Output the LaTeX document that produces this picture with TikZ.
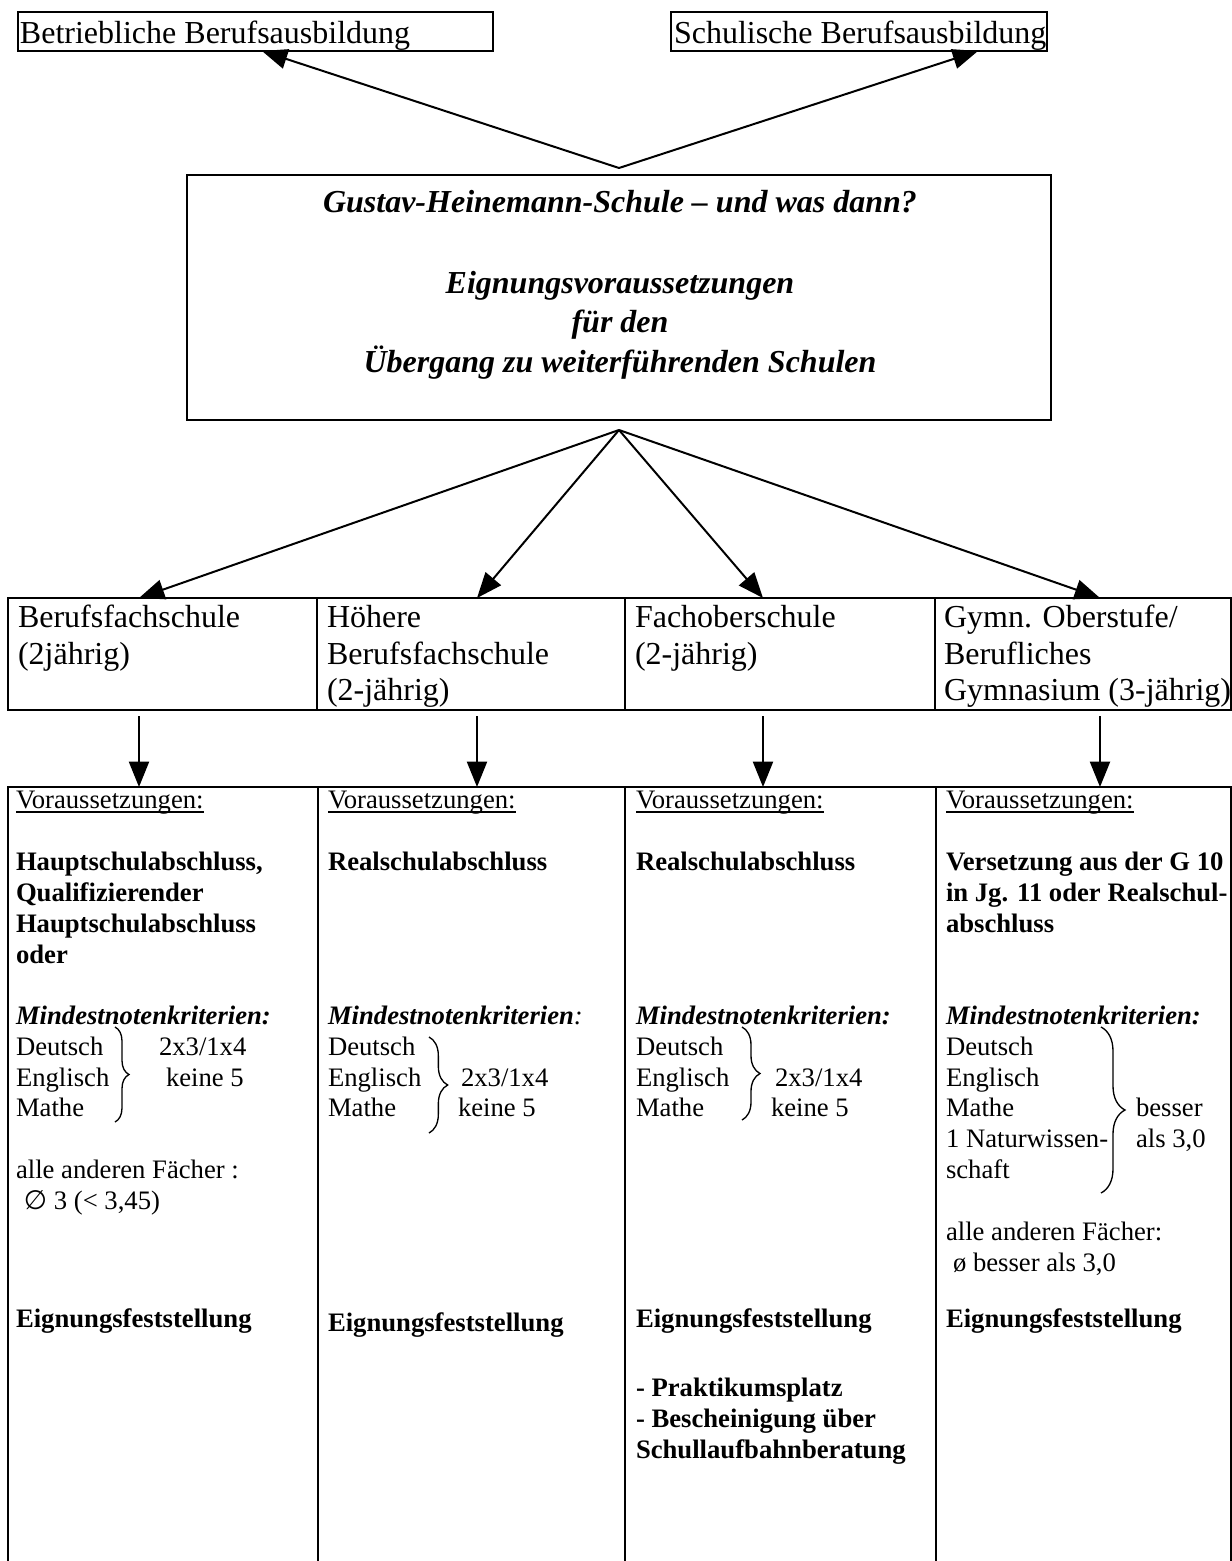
\documentclass[tikz,border=0pt]{standalone}
\usepackage{fontspec}
\setmainfont{Liberation Serif}
\newfontfamily\symfont{DejaVu Sans}
\usetikzlibrary{arrows.meta,calc,decorations.pathreplacing}
\newcommand\fL{\fontsize{12}{14}\selectfont}
\newcommand\fS{\fontsize{10}{11.5}\selectfont}
\newcommand\myul[1]{\setbox0\hbox{#1}\rlap{\vrule height -1.2pt depth 1.7pt width \wd0}\box0}
\begin{document}
\begin{tikzpicture}[x=0.375pt,y=-0.375pt,
  every node/.style={inner sep=0pt, outer sep=0pt},
  cellbox/.style={draw, line width=0.85pt, anchor=north west},
  lbl/.style={anchor=base west, font=\fS},
  lblb/.style={anchor=base west, font=\fS\bfseries},
  lblL/.style={anchor=base west, font=\fL},
  ttl/.style={anchor=base, font=\fL\bfseries\itshape},
  conn/.style={line width=0.75pt, -{Triangle[length=9.5pt,width=7.5pt]}},
  brc/.style={decorate, decoration={brace, amplitude=#1}, line width=0.5pt}]
\useasboundingbox (0,0) rectangle (1232,1561);

% top boxes
\node[cellbox, line width=0.9pt, minimum width=178.125pt, minimum height=14.625pt] (bA) at (18,12) {};
\node[lblL] (tA) at (20,43) {Betriebliche Berufsausbildung};
\node[cellbox, line width=0.9pt, minimum width=141pt, minimum height=14.625pt] (bB) at (671,12) {};
\node[lblL] (tB) at (674,43) {Schulische Berufsausbildung};

% title box
\node[cellbox, minimum width=324pt, minimum height=91.875pt] (T) at (187,175) {};
\node[ttl] (T1) at (620,212) {Gustav-Heinemann-Schule – und was dann?};
\node[ttl] (T2) at (620,293) {Eignungsvoraussetzungen};
\node[ttl] (T3) at (620,332) {für den};
\node[ttl] (T4) at (620,372) {Übergang zu weiterführenden Schulen};

% school row
\node[cellbox, minimum width=115.875pt, minimum height=42pt] (r1) at (8,598) {};
\node[cellbox, minimum width=115.5pt, minimum height=42pt] (r2) at (317,598) {};
\node[cellbox, minimum width=116.25pt, minimum height=42pt] (r3) at (625,598) {};
\node[cellbox, minimum width=111pt, minimum height=42pt] (r4) at (935,598) {};
\node[lblL] (r1a) at (18,627) {Berufsfachschule};
\node[lblL] (r1b) at (18,664) {(2jährig)};
\node[lblL] (r2a) at (327,627) {Höhere};
\node[lblL] (r2b) at (327,664) {Berufsfachschule};
\node[lblL] (r2c) at (327,700) {(2-jährig)};
\node[lblL] (r3a) at (635,627) {Fachoberschule};
\node[lblL] (r3b) at (635,664) {(2-jährig)};
\node[lblL] (r4a) at (944,627) {Gymn. Oberstufe/};
\node[lblL] (r4b) at (944,664) {Berufliches};
\node[lblL] (r4c) at (944,700) {Gymnasium (3-jährig)};

% requirement columns
\node[cellbox, minimum width=116.25pt, minimum height=300pt] (c1) at (8,787) {};
\node[cellbox, minimum width=115.125pt, minimum height=300pt] (c2) at (318,787) {};
\node[cellbox, minimum width=116.625pt, minimum height=300pt] (c3) at (625,787) {};
\node[cellbox, minimum width=110.625pt, minimum height=300pt] (c4) at (936,787) {};

% column 1
\node[lbl] (v1) at (16,808) {\myul{Voraussetzungen:}};
\node[lblb] (a1) at (16,870) {Hauptschulabschluss,};
\node[lblb] (a2) at (16,901) {Qualifizierender};
\node[lblb] (a3) at (16,932) {Hauptschulabschluss};
\node[lblb] (a4) at (16,963) {oder};
\node[lbl, font=\fS\bfseries\itshape] (m1) at (16,1024) {Mindestnotenkriterien:};
\node[lbl] (d1) at (16,1055) {Deutsch};
\node[lbl] (e1) at (16,1086) {Englisch};
\node[lbl] (h1) at (16,1116) {Mathe};
\node[lbl] (k1a) at (159,1055) {2x3/1x4};
\node[lbl] (k1b) at (166,1086) {keine 5};
\node[lbl] (o1a) at (16,1178) {alle anderen Fächer :};
\node[lbl] (o1b) at (24,1209) {{\symfont ∅} 3 (< 3,45)};
\node[lblb] (g1) at (16,1327) {Eignungsfeststellung};
\draw[brc=5.25pt] (115,1027) -- (115,1122);

% column 2
\node[lbl] (v2) at (328,808) {\myul{Voraussetzungen:}};
\node[lblb] (b2) at (328,870) {Realschulabschluss};
\node[lbl] (m2) at (328,1024) {\textbf{\textit{Mindestnotenkriterien}}\textit{:}};
\node[lbl] (d2) at (328,1055) {Deutsch};
\node[lbl] (e2) at (328,1086) {Englisch};
\node[lbl] (h2) at (328,1116) {Mathe};
\node[lbl] (k2a) at (461,1086) {2x3/1x4};
\node[lbl] (k2b) at (458,1116) {keine 5};
\node[lblb] (g2) at (328,1331) {Eignungsfeststellung};
\draw[brc=7pt] (429,1037) -- (429,1133);

% column 3
\node[lbl] (v3) at (636,808) {\myul{Voraussetzungen:}};
\node[lblb] (b3) at (636,870) {Realschulabschluss};
\node[lbl, font=\fS\bfseries\itshape] (m3) at (636,1024) {Mindestnotenkriterien:};
\node[lbl] (d3) at (636,1055) {Deutsch};
\node[lbl] (e3) at (636,1086) {Englisch};
\node[lbl] (h3) at (636,1116) {Mathe};
\node[lbl] (k3a) at (775,1086) {2x3/1x4};
\node[lbl] (k3b) at (771,1116) {keine 5};
\node[lblb] (g3) at (636,1327) {Eignungsfeststellung};
\node[lblb] (p3a) at (636,1396) {- Praktikumsplatz};
\node[lblb] (p3b) at (636,1427) {- Bescheinigung über};
\node[lblb] (p3c) at (636,1458) {Schullaufbahnberatung};
\draw[brc=6.75pt] (742,1027) -- (742,1120);

% column 4
\node[lbl] (v4) at (946,808) {\myul{Voraussetzungen:}};
\node[lblb] (b4a) at (946,870) {Versetzung aus der G 10};
\node[lblb] (b4b) at (946,901) {in Jg. 11 oder Realschul-};
\node[lblb] (b4c) at (946,932) {abschluss};
\node[lbl, font=\fS\bfseries\itshape] (m4) at (946,1024) {Mindestnotenkriterien:};
\node[lbl] (d4) at (946,1055) {Deutsch};
\node[lbl] (e4) at (946,1086) {Englisch};
\node[lbl] (h4) at (946,1116) {Mathe};
\node[lbl] (n4) at (946,1147) {1 Naturwissen-};
\node[lbl] (s4) at (946,1178) {schaft};
\node[lbl] (k4a) at (1136,1116) {besser};
\node[lbl] (k4b) at (1136,1147) {als 3,0};
\node[lbl] (o4a) at (946,1240) {alle anderen Fächer:};
\node[lbl] (o4b) at (953,1271) {ø besser als 3,0};
\node[lblb] (g4) at (946,1327) {Eignungsfeststellung};
\draw[brc=9pt] (1101,1027) -- (1101,1193);

% connectors
\coordinate (apU) at ($(T.north)+(0,-7)$);
\draw[conn] (apU) -- ($(bA.south west)+(244,0)$);
\draw[conn] (apU) -- ($(bB.south west)+(307,0)$);
\coordinate (apD) at ($(T.south)+(0,10)$);
\draw[conn] (apD) -- ($(r1.north west)+(131,0)$);
\draw[conn] (apD) -- ($(r2.north west)+(160,0)$);
\draw[conn] (apD) -- ($(r3.north west)+(138,0)$);
\draw[conn] (apD) -- ($(r4.north west)+(165,0)$);
\draw[conn] ($(r1.south west)+(131,6)$) -- ($(c1.north west)+(131,0)$);
\draw[conn] ($(r2.south west)+(160,6)$) -- ($(c2.north west)+(159,0)$);
\draw[conn] ($(r3.south west)+(138,6)$) -- ($(c3.north west)+(138,0)$);
\draw[conn] ($(r4.south west)+(165,6)$) -- ($(c4.north west)+(164,0)$);
\end{tikzpicture}
\end{document}
